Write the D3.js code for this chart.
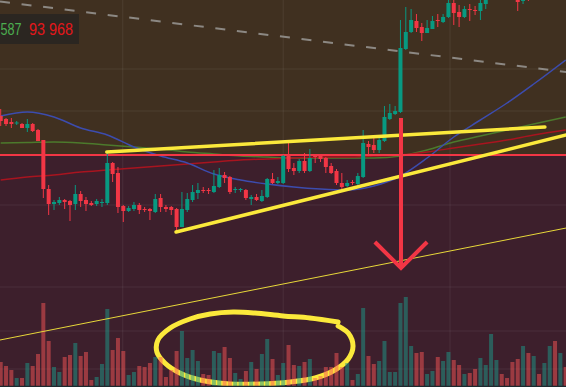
<!DOCTYPE html>
<html>
<head>
<meta charset="utf-8">
<script src="https://cdn.jsdelivr.net/npm/d3@7"></script>
<style>
  body { margin: 0; background: #3d1f2c; overflow: hidden; }
  svg { display: block; }
</style>
</head>
<body>
<div class="chart"></div>
<script>
// OHLC (price units), one entry per candle
var open = [284, 281, 278, 276.5, 276, 272, 276, 270, 260, 211, 196, 197, 200, 199, 196, 206, 200, 197, 196, 197,
  197, 237, 227, 194, 189, 191, 195, 191, 191, 188, 202, 193, 193, 191, 173, 190, 200, 207, 210, 210,
  208, 213, 225, 223, 210, 210, 210, 201, 203, 199, 203, 221, 217, 217, 244, 232, 229, 239, 229, 244,
  244, 242, 234, 229, 217, 214, 218, 216, 223, 256, 255, 250, 259, 281, 286, 288, 351, 368, 379, 373,
  367, 371, 380, 378, 383, 397, 388, 383, 391, 390, 389, 396, 406, 408, 425, 432, 430, 412, 399, 410,
  408, 430, 418, 424, 434, 430, 450]
var high = [291, 282, 282, 279, 277, 281, 277, 271, 260, 215, 200, 203, 201, 200, 215, 209, 203, 199, 201, 201,
  248, 238, 233, 195, 194, 198, 197, 193, 192, 206, 206, 195, 194, 192, 208, 207, 215, 217, 213, 212,
  230, 232, 228, 224, 213, 212, 211, 205, 206, 210, 222, 227, 223, 245, 257, 237, 241, 247, 251, 246,
  246, 243, 237, 231, 227, 220, 220, 227, 270, 259, 265, 263, 294, 296, 294, 380, 393, 391, 386, 377,
  380, 384, 386, 386, 402, 401, 395, 394, 396, 394, 403, 410, 425, 424, 430, 436, 434, 416, 414, 414,
  426, 434, 434, 440, 438, 448, 454]
var low = [274, 274, 272, 275, 272, 268, 268, 259, 202, 185, 190, 195, 191, 179, 190, 193, 189, 194, 194, 193,
  195, 218, 187, 178, 188, 189, 186, 188, 180, 187, 188, 188, 185, 167, 173, 188, 198, 201, 207, 206,
  207, 212, 217, 206, 207, 208, 200, 195, 199, 198, 202, 216, 216, 216, 228, 225, 227, 227, 228, 237,
  238, 227, 226, 215, 209, 213, 215, 215, 222, 246, 247, 247, 258, 280, 285, 287, 350, 367, 368, 359,
  367, 371, 373, 377, 382, 375, 373, 382, 379, 385, 380, 391, 403, 404, 408, 415, 406, 389, 396, 399,
  405, 414, 414, 420, 422, 427, 436]
var close = [279, 276, 276, 277.5, 272, 276, 269, 259, 211, 196, 198, 200, 198, 195, 206, 199, 196, 195, 199, 198,
  237, 226, 193, 189, 192, 195, 190, 190, 189, 201, 193, 191, 190, 173, 191, 201, 208, 210, 209, 209,
  214, 225, 222, 208, 211, 211, 202, 203, 200, 204, 221, 217, 219, 244, 231, 229, 239, 229, 242, 243,
  241, 233, 227, 217, 213, 217, 217, 224, 257, 253, 250, 260, 283, 287, 289, 352, 368, 380, 372, 367,
  372, 379, 379, 383, 397, 387, 383, 391, 390, 389, 397, 406, 420, 418, 412, 420, 412, 398, 408, 404,
  420, 418, 430, 436, 426, 444, 440]
var volume = [24, 20, 16, 8, 8, 23, 20, 32, 83, 45, 19, 14, 29, 31, 43, 30, 34, 6, 9, 22,
  77, 36, 48, 35, 11, 14, 20, 19, 23, 29, 29, 9, 16, 35, 55, 28, 36, 25, 12, 11,
  35, 33, 39, 28, 13, 7, 15, 24, 17, 32, 47, 27, 11, 23, 41, 21, 20, 24, 27, 8,
  10, 19, 19, 33, 19, 23, 6, 12, 78, 30, 22, 25, 45, 14, 14, 83, 89, 40, 33, 34,
  12, 15, 29, 25, 34, 26, 21, 12, 13, 17, 28, 21, 52, 26, 12, 8, 24, 27, 40, 33,
  30, 12, 23, 40, 45, 33, 19]

// moving averages, sampled every few candles
var maIdx = [0, 5, 10, 15, 20, 25, 30, 35, 40, 45, 50, 55, 60, 65, 70, 75, 80, 85, 90, 95, 100, 106]
var maBlue = [284, 288, 283, 272, 265, 253, 244, 237, 226, 220, 216, 213, 211, 210, 214, 224, 242, 263, 280, 297, 316, 340]
var maGreen = [257, 257.5, 258, 257, 255, 253, 251, 248, 246, 244, 243, 242, 242, 242, 242, 244, 250, 258, 264, 270, 276, 283]
var maRed = [220, 223, 225, 228, 230, 232, 234, 236, 238, 240, 241, 242, 243, 243, 244, 245, 248, 252, 256, 260, 265, 270]

// grid levels
var gridPrices = [331, 289, 195, 113, 69, 31]
var gridIdx = [22.9, 53, 84.3]

// drawings: [index, price] end points
var zoneLevel = 245
var dashedLine = [[-0.13, 398.5], [106.1, 328]]
var thinYellow = [[-0.13, 60], [106.1, 172]]
var upperTrend = [[19.9, 248], [102.1, 273]]
var lowerTrend = [[32.9, 168], [106.1, 265]]
var arrowShaft = [[75.1, 282], [75.1, 132]]
var arrowHead = [[70.2, 158], [75.1, 132], [80.0, 158]]
// hand-drawn loop round the volume bars: [index, volume]
var loopPts = [[63.3, 64], [58, 68], [53, 70], [47.7, 73], [43.6, 74], [39.3, 72], [35.5, 67], [31.8, 58],
  [29.5, 46], [29.3, 34], [30.8, 23], [33.6, 13], [37.4, 6], [43, 2], [48.6, 2], [54.3, 4], [59, 8],
  [62.7, 16], [65.2, 27], [66.1, 40], [65.2, 53], [63.3, 60]]

var width = 566
var height = 387
var up = '#089981'
var down = '#f23645'

var svg = d3.select('.chart')
  .append('svg')
  .attr('width', width)
  .attr('height', height)

var x = d3.scaleLinear().domain([0, 106]).range([0.7, 565.7])
var y = d3.scaleLinear().domain([13, 400]).range([387, 0])
var yVol = d3.scaleLinear().domain([0, 90]).range([386, 296])

// backgrounds
svg.append('rect')
  .attr('x', 0).attr('y', 0)
  .attr('width', width).attr('height', height)
  .attr('fill', '#3d1f2c')
svg.append('rect')
  .attr('x', 0).attr('y', 0)
  .attr('width', width).attr('height', y(zoneLevel))
  .attr('fill', '#403020')

// grid
svg.selectAll('.hgrid')
  .data(gridPrices)
  .enter()
  .append('line')
  .attr('x1', 0).attr('x2', width)
  .attr('y1', d => y(d)).attr('y2', d => y(d))
  .attr('stroke', 'rgba(255,255,255,0.07)')
svg.selectAll('.vgrid')
  .data(gridIdx)
  .enter()
  .append('line')
  .attr('x1', d => x(d)).attr('x2', d => x(d))
  .attr('y1', 0).attr('y2', height)
  .attr('stroke', 'rgba(255,255,255,0.07)')

var seg = d3.line().x(d => x(d[0])).y(d => y(d[1]))

svg.append('path')
  .attr('d', seg(dashedLine))
  .attr('fill', 'none')
  .attr('stroke', '#8c8883')
  .attr('stroke-width', 2)
  .attr('stroke-dasharray', '10,11.7')

// moving averages
var maLine = d3.line().curve(d3.curveMonotoneX)
function drawMA(vals, color) {
  svg.append('path')
    .attr('d', maLine(maIdx.map((k, i) => [x(k), y(vals[i])])))
    .attr('fill', 'none')
    .attr('stroke', color)
    .attr('stroke-width', 1.5)
}
drawMA(maGreen, '#4c7a2c')
drawMA(maRed, '#a8141f')
drawMA(maBlue, '#3c4cae')

// zone border
svg.append('line')
  .attr('x1', 0).attr('x2', width)
  .attr('y1', y(zoneLevel)).attr('y2', y(zoneLevel))
  .attr('stroke', '#f23645')
  .attr('stroke-width', 2)

// freehand loop sits under the volume bars
svg.append('path')
  .attr('d', d3.line().curve(d3.curveCatmullRom).x(d => x(d[0])).y(d => yVol(d[1]))(loopPts))
  .attr('fill', 'none')
  .attr('stroke', '#fbe93b')
  .attr('stroke-width', 5)
  .attr('stroke-linecap', 'round')

// volume
svg.selectAll('.vol')
  .data(volume)
  .enter()
  .append('rect')
  .attr('x', (d, i) => x(i) - 2)
  .attr('width', 4)
  .attr('y', d => yVol(d))
  .attr('height', d => yVol(0) - yVol(d))
  .attr('fill', (d, i) => close[i] >= open[i] ? '#1c9b89' : '#fa5555')
  .attr('opacity', 0.5)

svg.append('line')
  .attr('x1', 0).attr('x2', width)
  .attr('y1', 386.5).attr('y2', 386.5)
  .attr('stroke', '#1e2a2f')
  .attr('stroke-width', 1.5)

svg.append('path')
  .attr('d', seg(thinYellow))
  .attr('fill', 'none')
  .attr('stroke', '#e8d83a')
  .attr('stroke-width', 1)

// candles
var candles = svg.selectAll('.candle')
  .data(open)
  .enter()
  .append('g')
candles.append('line')
  .attr('x1', (d, i) => x(i)).attr('x2', (d, i) => x(i))
  .attr('y1', (d, i) => y(high[i])).attr('y2', (d, i) => y(low[i]))
  .attr('stroke', (d, i) => close[i] >= open[i] ? up : down)
  .attr('stroke-width', 1)
candles.append('rect')
  .attr('x', (d, i) => x(i) - 2)
  .attr('width', 4)
  .attr('y', (d, i) => y(Math.max(open[i], close[i])))
  .attr('height', (d, i) => Math.max(1, Math.abs(y(open[i]) - y(close[i]))))
  .attr('fill', (d, i) => close[i] >= open[i] ? up : down)

// trend lines
;[upperTrend, lowerTrend].forEach(t => {
  svg.append('path')
    .attr('d', seg(t))
    .attr('stroke', '#fbe93b')
    .attr('stroke-width', 3.5)
    .attr('stroke-linecap', 'round')
})

// arrow
svg.append('path')
  .attr('d', seg(arrowShaft))
  .attr('stroke', '#f23645')
  .attr('stroke-width', 4)
svg.append('path')
  .attr('d', seg(arrowHead))
  .attr('fill', 'none')
  .attr('stroke', '#f23645')
  .attr('stroke-width', 4)
  .attr('stroke-linejoin', 'miter')

// price label
svg.append('rect')
  .attr('x', 0).attr('y', 14)
  .attr('width', 79).attr('height', 30)
  .attr('fill', '#2b2621')
svg.append('text')
  .attr('x', 0.5).attr('y', 34.5)
  .attr('font-family', 'Liberation Sans, Arial, sans-serif')
  .attr('font-size', 16)
  .attr('textLength', 21)
  .attr('lengthAdjust', 'spacingAndGlyphs')
  .attr('fill', '#4caf50')
  .text('587')
svg.append('text')
  .attr('x', 29).attr('y', 34.5)
  .attr('font-family', 'Liberation Sans, Arial, sans-serif')
  .attr('font-size', 16)
  .attr('textLength', 44)
  .attr('lengthAdjust', 'spacingAndGlyphs')
  .attr('fill', '#e3171b')
  .text('93 968')
</script>
</body>
</html>
